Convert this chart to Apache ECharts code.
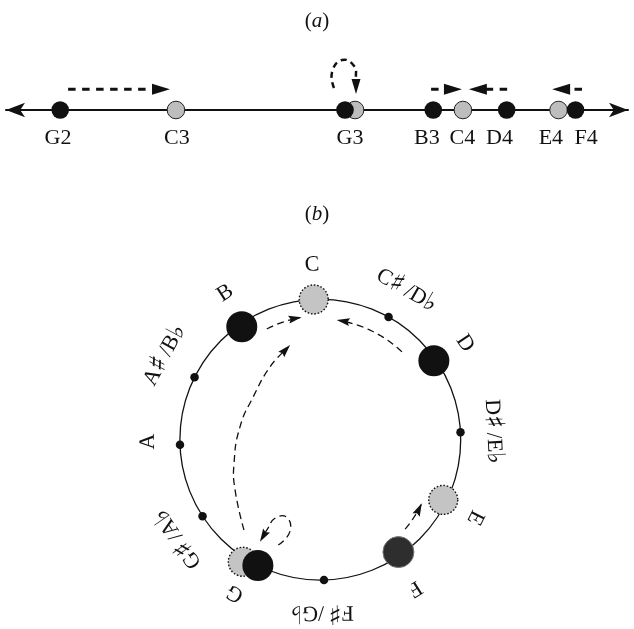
<!DOCTYPE html>
<html>
<head>
<meta charset="utf-8">
<script src="https://cdn.jsdelivr.net/npm/echarts@6/dist/echarts.min.js"></script>
<style>
html,body{margin:0;padding:0;background:#fff;}
#c{width:634px;height:629px;}
</style>
</head>
<body>
<div id="c"></div>
<script>
// ---------- Panel (a): notes on a pitch line (MIDI semitone numbers)
const lineNotes = ['G2', 'C3', 'G3', 'B3', 'C4', 'D4', 'E4', 'F4'];
const lineLabelPos = [43.07, 48.04, 55.28, 58.49, 59.98, 61.53, 63.68, 65.15];
const blackPitches = [43.16, 55.07, 58.76, 61.83, 64.71];   // G2 G3 B3 D4 F4
const grayPitches = [48.0, 55.49, 60.0, 64.0];              // C3 G3 C4 E4
// dashed arrows above the line: [pitch, height] points, last point = arrow tip
const lineArrowPaths = [
  [[43.49, 0.414], [47.75, 0.414]],      // G2 -> C3
  [[58.67, 0.414], [59.96, 0.414]],      // B3 -> C4
  [[61.85, 0.414], [60.25, 0.414]],      // D4 -> C4
  [[64.98, 0.414], [63.73, 0.414]]       // F4 -> E4
];
const lineLoopPath = [[54.61, 0.44], [54.53, 0.76], [54.95, 1.0], [55.45, 0.88], [55.53, 0.64], [55.53, 0.32]]; // G3 -> G3

// ---------- Panel (b): pitch-class circle, [radius, semitones from C]
const circleDots = [1.07, 3.0, 6.05, 8.0, 9.03, 9.98];      // C# D# F# G# A A#
const blackNotes = [[0.98, 10.94], [0.985, 1.94], [1.0, 6.98]]; // B D G
const darkNotes = [[0.975, 4.94]];                              // F
const grayNotes = [[1.0, 0.01], [0.975, 3.97], [1.03, 7.18]];   // C E G
const circleLabels = ['C', 'C\u266F/D\u266D', 'D', 'D\u266F/E\u266D', 'E', 'F', 'F\u266F/G\u266D', 'G', 'G\u266F/A\u266D', 'A', 'A\u266F/B\u266D', 'B'];
const circleLabelAngles = [0.01, 1.1, 1.98, 3.01, 3.99, 5.02, 6.08, 7.07, 7.94, 9.08, 10.05, 11.0];
const circleLabelRadius = [1.246, 1.228, 1.238, 1.232, 1.235, 1.255, 1.23, 1.251, 1.235, 1.227, 1.262, 1.244];
const circleArrowPaths = [
  [[0.876, 11.24], [0.882, 11.81]],   // B -> C
  [[0.854, 1.53], [0.86, 0.36]],      // D -> C
  [[0.878, 4.65], [0.853, 4.17]],     // F -> E
  [[0.842, 7.44], [0.705, 8.08], [0.637, 8.59], [0.579, 9.41], [0.567, 10.19], [0.631, 10.95], [0.708, 11.51]], // G -> C
  [[0.808, 6.825], [0.69, 6.71], [0.602, 6.88], [0.646, 7.1], [0.734, 7.12], [0.844, 7.12]]                    // G -> G
];

const START_ANGLE = 93;
const serif = '"Liberation Serif", "Times New Roman", serif';
const INK = '#111';

function arrowShape(pts, o) {
  const n = pts.length;
  const tip = pts[n - 1];
  const prev = pts[n - 2];
  let dx = tip[0] - prev[0], dy = tip[1] - prev[1];
  const L = Math.hypot(dx, dy) || 1;
  dx /= L; dy /= L;
  const nx = -dy, ny = dx;
  const bx = tip[0] - dx * o.headLen, by = tip[1] - dy * o.headLen;
  const nl = o.headLen * (1 - (o.notch || 0));
  const head = [
    tip,
    [bx + nx * o.headW / 2, by + ny * o.headW / 2],
    [tip[0] - dx * nl, tip[1] - dy * nl],
    [bx - nx * o.headW / 2, by - ny * o.headW / 2]
  ];
  const line = pts.slice();
  const cut = o.headLen * 0.6;
  line[n - 1] = [tip[0] - dx * cut, tip[1] - dy * cut];
  return {
    type: 'group',
    children: [
      { type: 'polyline', shape: { points: line, smooth: o.smooth || 0 },
        style: { stroke: INK, fill: 'none', lineWidth: o.lw, lineDash: o.dash, lineCap: 'butt' } },
      { type: 'polygon', shape: { points: head }, style: { fill: INK, stroke: 'none' } }
    ]
  };
}

const chart = echarts.init(document.getElementById('c'));
const richTitle = {
  p: { fontFamily: serif, fontSize: 21, fontWeight: 'normal', color: INK },
  i: { fontFamily: serif, fontSize: 21, fontWeight: 'normal', fontStyle: 'italic', color: INK }
};
const lineLabelStyle = { show: true, position: 'inside', formatter: '{b}', fontFamily: serif, fontSize: 22, fontWeight: 'normal', color: INK, textBorderWidth: 0 };
const circleLabelStyle = {
  show: true, position: 'inside', fontFamily: serif, fontSize: 22, fontWeight: 'normal', color: INK, textBorderWidth: 0,
  formatter: function (p) {
    return p.name.replace(/\u266F/g, '{s|\u266F}\u2009').replace(/\u266D/g, '{f|\u266D}');
  },
  rich: {
    s: { fontFamily: '"DejaVu Serif", serif', fontSize: 27, color: INK },
    f: { fontFamily: '"DejaVu Serif", serif', fontSize: 25, color: INK }
  }
};

const option = {
  animation: false,
  backgroundColor: '#fff',
  title: [
    { text: '{p|(}{i|a}{p|)}', left: 'center', top: 6, textStyle: { fontWeight: 'normal', rich: richTitle } },
    { text: '{p|(}{i|b}{p|)}', left: 'center', top: 199, textStyle: { fontWeight: 'normal', rich: richTitle } }
  ],
  grid: { left: 6, right: 6, top: 60, height: 100 },
  xAxis: {
    type: 'value', min: 40.893, max: 66.904,
    axisLine: { onZero: true, symbol: ['arrow', 'arrow'], symbolSize: [11, 19], lineStyle: { color: INK, width: 2 } },
    axisTick: { show: false }, axisLabel: { show: false }, splitLine: { show: false }
  },
  yAxis: { type: 'value', min: -1, max: 1, show: false },
  polar: { center: [320.3, 439.7], radius: 140.4 },
  angleAxis: {
    type: 'value', min: 0, max: 12, startAngle: START_ANGLE, clockwise: true,
    axisLine: { show: true, lineStyle: { color: INK, width: 1.3 } },
    axisTick: { show: false }, axisLabel: { show: false }, splitLine: { show: false }, splitArea: { show: false }
  },
  radiusAxis: { type: 'value', min: 0, max: 1, show: false },
  series: [
    // ----- panel (a)
    {
      type: 'scatter', coordinateSystem: 'cartesian2d', z: 3, silent: true, clip: false,
      data: grayPitches.map(v => [v, 0]), symbolSize: 17.6,
      itemStyle: { color: '#bdbdbd', borderColor: '#222', borderWidth: 1, opacity: 1 }
    },
    {
      type: 'scatter', coordinateSystem: 'cartesian2d', z: 4, silent: true, clip: false,
      data: blackPitches.map(v => [v, 0]), symbolSize: 17.6,
      itemStyle: { color: INK, opacity: 1 }
    },
    {
      type: 'scatter', coordinateSystem: 'cartesian2d', z: 4, silent: true, clip: false, symbolSize: 0,
      data: lineNotes.map((n, i) => ({ name: n, value: [lineLabelPos[i], -0.56] })),
      itemStyle: { opacity: 1 },
      label: lineLabelStyle
    },
    {
      type: 'custom', coordinateSystem: 'cartesian2d', z: 5, silent: true, clip: false,
      data: lineArrowPaths.concat([lineLoopPath]).map(p => p[0]),
      renderItem: function (params, api) {
        const i = params.dataIndex;
        if (i < lineArrowPaths.length) {
          const pts = lineArrowPaths[i].map(p => api.coord(p));
          return arrowShape(pts, { lw: 3, dash: [7.5, 6.5], headLen: 18, headW: 11 });
        }
        const pts = lineLoopPath.map(p => api.coord(p));
        return arrowShape(pts, { lw: 2.5, dash: [6, 4.5], headLen: 15, headW: 9, smooth: 0.5 });
      }
    },
    // ----- panel (b)
    {
      type: 'scatter', coordinateSystem: 'polar', z: 3, silent: true, clip: false,
      data: circleDots.map(a => [1, a]), symbolSize: 8.5,
      itemStyle: { color: INK, opacity: 1 }
    },
    {
      type: 'scatter', coordinateSystem: 'polar', z: 3, silent: true, clip: false,
      data: grayNotes, symbolSize: 29,
      itemStyle: { color: '#c4c4c4', borderColor: INK, borderWidth: 1.4, borderType: [1.6, 1.8], opacity: 1 }
    },
    {
      type: 'scatter', coordinateSystem: 'polar', z: 4, silent: true, clip: false,
      data: darkNotes, symbolSize: 31,
      itemStyle: { color: '#2e2e2e', borderColor: '#777', borderWidth: 1, opacity: 1 }
    },
    {
      type: 'scatter', coordinateSystem: 'polar', z: 4, silent: true, clip: false,
      data: blackNotes, symbolSize: 31,
      itemStyle: { color: INK, opacity: 1 }
    },
    {
      type: 'scatter', coordinateSystem: 'polar', z: 4, silent: true, clip: false, symbolSize: 0,
      data: circleLabels.map((n, i) => ({
        name: n, value: [circleLabelRadius[i], circleLabelAngles[i]],
        label: { rotate: (START_ANGLE - 90) - circleLabelAngles[i] * 30 }
      })),
      itemStyle: { opacity: 1 },
      label: circleLabelStyle
    },
    {
      type: 'custom', coordinateSystem: 'polar', z: 5, silent: true, clip: false,
      data: circleArrowPaths.map(p => p[0]),
      renderItem: function (params, api) {
        const path = circleArrowPaths[params.dataIndex];
        let pts;
        if (path.length === 2) {
          pts = [];
          const N = 24;
          for (let k = 0; k <= N; k++) {
            const t = k / N;
            pts.push(api.coord([path[0][0] + (path[1][0] - path[0][0]) * t, path[0][1] + (path[1][1] - path[0][1]) * t]));
          }
          return arrowShape(pts, { lw: 1.3, dash: [7, 4.5], headLen: 13, headW: 8, notch: 0.15 });
        }
        pts = path.map(p => api.coord(p));
        return arrowShape(pts, { lw: 1.3, dash: [7, 4.5], headLen: 13, headW: 8, notch: 0.15, smooth: 0.5 });
      }
    }
  ]
};
chart.setOption(option);
</script>
</body>
</html>
